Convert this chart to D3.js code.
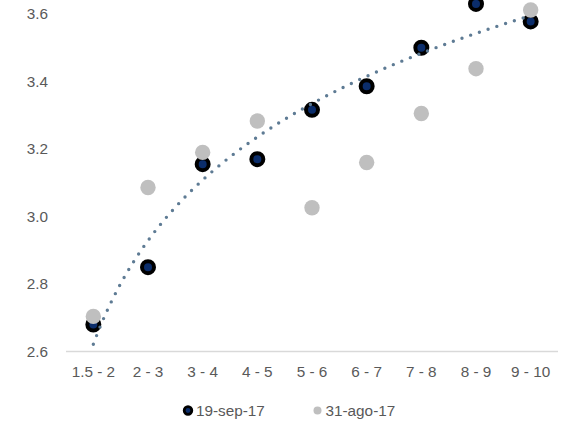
<!DOCTYPE html>
<html>
<head>
<meta charset="utf-8">
<script src="https://cdn.jsdelivr.net/npm/d3@7"></script>
<style>
  html, body { margin: 0; padding: 0; background: #fff; }
  svg { display: block; font-family: "Liberation Sans", Arial, sans-serif; }
</style>
</head>
<body>
<svg id="chart" width="570" height="421"></svg>
<script>
// Age ranges on the x axis
const categories = ["1.5 - 2", "2 - 3", "3 - 4", "4 - 5", "5 - 6", "6 - 7", "7 - 8", "8 - 9", "9 - 10"];
// Series values
const sep19 = [2.68, 2.85, 3.155, 3.17, 3.316, 3.386, 3.50, 3.63, 3.578];
const ago31 = [2.704, 3.086, 3.19, 3.283, 3.026, 3.16, 3.305, 3.438, 3.612];
const seriesNames = ["19-sep-17", "31-ago-17"];
const yTicks = [2.6, 2.8, 3.0, 3.2, 3.4, 3.6];

const svg = d3.select("#chart");
const textColor = "#595959";

const x = d3.scaleBand().domain(categories).range([66, 558]);
const y = d3.scaleLinear().domain([2.6, 3.6]).range([351.5, 14]);
const cx = c => x(c) + x.bandwidth() / 2;

// x axis baseline
svg.append("line")
  .attr("x1", 66).attr("x2", 558)
  .attr("y1", y(2.6)).attr("y2", y(2.6))
  .attr("stroke", "#d9d9d9").attr("stroke-width", 1.3);

// y tick labels
svg.append("g").selectAll("text").data(yTicks).join("text")
  .attr("x", 48).attr("y", d => y(d))
  .attr("dy", "0.35em")
  .attr("text-anchor", "end")
  .attr("font-size", 15.3).attr("fill", textColor)
  .text(d => d.toFixed(1));

// x tick labels
svg.append("g").selectAll("text").data(categories).join("text")
  .attr("x", d => cx(d)).attr("y", 377)
  .attr("text-anchor", "middle")
  .attr("font-size", 15.3).attr("fill", textColor)
  .text(d => d);

// 19-sep-17 markers
svg.append("g").selectAll("circle").data(sep19).join("circle")
  .attr("cx", (d, i) => cx(categories[i])).attr("cy", d => y(d))
  .attr("r", 6)
  .attr("fill", "#0b2d6b").attr("stroke", "#000").attr("stroke-width", 4);

// 31-ago-17 markers
svg.append("g").selectAll("circle").data(ago31).join("circle")
  .attr("cx", (d, i) => cx(categories[i])).attr("cy", d => y(d))
  .attr("r", 7.7)
  .attr("fill", "#bfbfbf");

// Logarithmic trend line (least squares on ln(index)) for 19-sep-17
const lx = sep19.map((d, i) => Math.log(i + 1));
const mx = d3.mean(lx), my = d3.mean(sep19);
const slope = d3.sum(lx, (v, i) => (v - mx) * (sep19[i] - my)) / d3.sum(lx, v => (v - mx) * (v - mx));
const intercept = my - slope * mx;
const xi = d3.scaleLinear().domain([1, categories.length]).range([cx(categories[0]), cx(categories[categories.length - 1])]);
const trendPts = d3.range(1, categories.length + 0.001, 0.05).map(t => [xi(t), y(intercept + slope * Math.log(t))]);
svg.append("path")
  .attr("d", d3.line()(trendPts))
  .attr("fill", "none")
  .attr("stroke", "#5e7b94")
  .attr("stroke-width", 3.4)
  .attr("stroke-linecap", "round")
  .attr("stroke-dasharray", "0 9.2");

// Legend
const legend = svg.append("g");
legend.append("circle").attr("cx", 188).attr("cy", 410.5).attr("r", 3.8)
  .attr("fill", "#0b2d6b").attr("stroke", "#000").attr("stroke-width", 2.8);
legend.append("text").attr("x", 196).attr("y", 416)
  .attr("font-size", 15.3).attr("fill", textColor).text(seriesNames[0]);
legend.append("circle").attr("cx", 317.5).attr("cy", 410.5).attr("r", 4)
  .attr("fill", "#bfbfbf");
legend.append("text").attr("x", 325.5).attr("y", 416)
  .attr("font-size", 15.3).attr("fill", textColor).text(seriesNames[1]);
</script>
</body>
</html>
